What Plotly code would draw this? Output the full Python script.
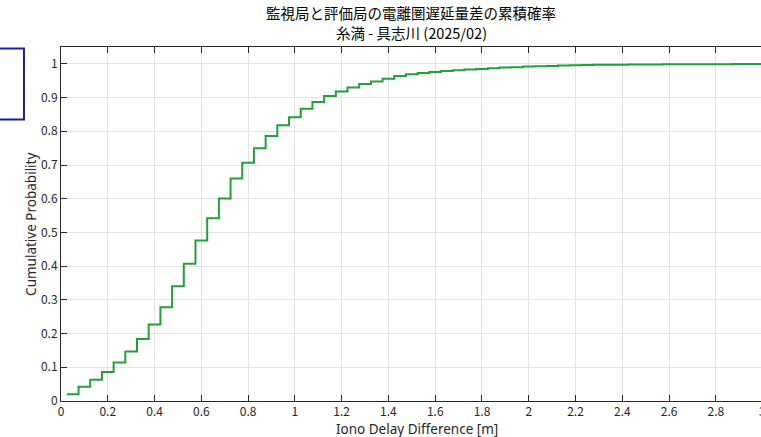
import plotly.graph_objects as go

# Empirical CDF of the iono delay difference, one value per 0.05 m bin (bin centres)
bin_centers = [round(0.025 + 0.05 * k, 3) for k in range(61)]
cdf_values = [
    0.020, 0.042, 0.063, 0.086, 0.114, 0.147, 0.184, 0.227, 0.278, 0.340,
    0.407, 0.476, 0.542, 0.601, 0.660, 0.707, 0.750, 0.786, 0.818, 0.842,
    0.867, 0.887, 0.905, 0.918, 0.930, 0.940, 0.948, 0.956, 0.964, 0.969,
    0.973, 0.976, 0.979, 0.981, 0.983, 0.985, 0.987, 0.989, 0.990, 0.992,
    0.993, 0.994, 0.995, 0.996, 0.9965, 0.997, 0.9973, 0.9976, 0.998, 0.9982,
    0.9984, 0.9986, 0.9987, 0.9988, 0.9990, 0.9991, 0.9992, 0.9993, 0.9994, 0.9995,
    0.9996,
]

x_ticks = [round(0.2 * i, 1) for i in range(15)]
y_ticks = [round(0.1 * i, 1) for i in range(11)]

title_line1 = "監視局と評価局の電離圏遅延量差の累積確率"
title_line2 = "糸満 - 具志川 (2025/02)"
x_label = "Iono Delay Difference [m]"
y_label = "Cumulative Probability"

FONT = "Noto Sans CJK JP, Noto Sans, sans-serif"
LATIN_FONT = "Noto Sans, sans-serif"
AXIS_COLOR = "#262626"
GRID_COLOR = "#e3e3e3"

fig = go.Figure()
fig.add_trace(go.Scatter(
    x=bin_centers, y=cdf_values,
    mode="lines",
    line=dict(color="#22a03a", width=2, shape="hv"),
    showlegend=False,
    hoverinfo="x+y",
))

axis_common = dict(
    showline=True, linecolor=AXIS_COLOR, linewidth=1,
    ticks="inside", ticklen=6, tickcolor=AXIS_COLOR,
    showgrid=True, gridcolor=GRID_COLOR, gridwidth=1,
    zeroline=False,
    tickfont=dict(family=FONT, size=12, color=AXIS_COLOR),
)

fig.update_xaxes(
    range=[0, 2.993], mirror="ticks",
    tickvals=x_ticks, ticktext=[f"{v:g}" for v in x_ticks],
    **axis_common,
)
fig.update_yaxes(
    range=[0, 1.05], mirror=False,
    tickvals=y_ticks, ticktext=[f"{v:g}" for v in y_ticks],
    **axis_common,
)

annotations = [
    dict(text=title_line1, x=0.5, y=1.097, xref="paper", yref="paper",
         xanchor="center", yanchor="middle", showarrow=False,
         font=dict(family=FONT, size=14.5, color="#000000")),
    dict(text=title_line2, x=0.5, y=1.040, xref="paper", yref="paper",
         xanchor="center", yanchor="middle", showarrow=False,
         font=dict(family=FONT, size=14.5, color="#000000")),
    dict(text=x_label, x=0.508, y=-0.08, xref="paper", yref="paper",
         xanchor="center", yanchor="middle", showarrow=False,
         font=dict(family=LATIN_FONT, size=13.5, color=AXIS_COLOR)),
    dict(text=y_label, x=-0.043, y=0.5, xref="paper", yref="paper",
         xanchor="center", yanchor="middle", showarrow=False, textangle=-90,
         font=dict(family=LATIN_FONT, size=13.5, color=AXIS_COLOR)),
    # tick label for the right end of the axis (x = 3)
    dict(text="3", x=1.0026, y=-0.027, xref="paper", yref="paper",
         xanchor="center", yanchor="middle", showarrow=False,
         font=dict(family=FONT, size=12, color=AXIS_COLOR)),
]

shapes = [
    # legend frame at the left edge
    dict(type="rect", xref="paper", yref="paper",
         x0=-0.1, x1=-0.0529, y0=0.795, y1=0.996,
         line=dict(color="#1c1ca8", width=2), fillcolor="rgba(255,255,255,0)"),
]

fig.update_layout(
    width=761, height=437,
    margin=dict(l=61, r=0, t=47, b=36),
    paper_bgcolor="white", plot_bgcolor="white",
    annotations=annotations,
    shapes=shapes,
    font=dict(family=FONT),
)

fig.write_html("out.html")
